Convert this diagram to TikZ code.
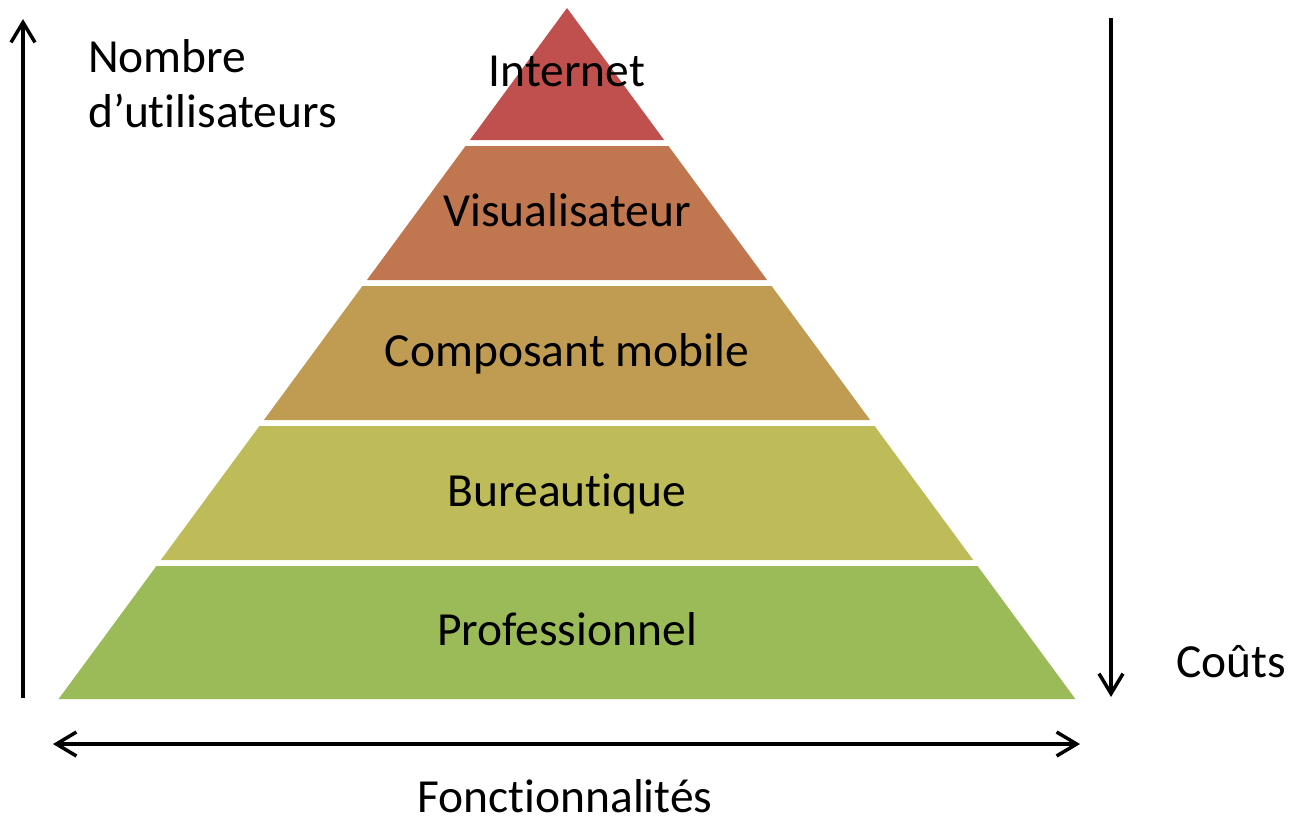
\documentclass[tikz,border=0pt]{standalone}
\usepackage{fontspec}
\setmainfont{Carlito}[Ligatures={NoCommon,NoContextual}]
\usetikzlibrary{arrows.meta}
\definecolor{c1}{RGB}{192,80,77}
\definecolor{c2}{RGB}{192,119,79}
\definecolor{c3}{RGB}{191,156,82}
\definecolor{c4}{RGB}{189,188,89}
\definecolor{c5}{RGB}{155,187,89}
\tikzset{
  lbl/.style={font=\fontsize{47.5}{55}\selectfont, anchor=base, inner sep=0pt, text=black},
  axis/.style={line width=3.5pt, black, line cap=butt},
  tip/.style={-{Straight Barb[length=20pt,width=24pt,line width=3.5pt]}},
}
\begin{document}
\begin{tikzpicture}[x=1pt,y=-1pt]
\useasboundingbox (0,0) rectangle (1299,820);
% pyramid bands: apex (567,8), half-width = 0.7358*(y-8)
\fill[c1] (567,8) -- (664.1,140) -- (469.9,140) -- cycle;
\fill[c2] (465.5,146) -- (668.5,146) -- (767.1,280) -- (366.9,280) -- cycle;
\fill[c3] (362.4,286) -- (771.6,286) -- (870.1,420) -- (263.9,420) -- cycle;
\fill[c4] (259.4,426) -- (874.6,426) -- (973.2,560) -- (160.8,560) -- cycle;
\fill[c5] (156.4,566) -- (977.6,566) -- (1075.4,699) -- (58.6,699) -- cycle;
\node[lbl] (internet) at (567,86) {Internet};
\node[lbl] (visu) at (567,226) {Visualisateur};
\node[lbl] (comp) at (567,366) {Composant mobile};
\node[lbl] (bur) at (567,506) {Bureautique};
\node[lbl] (pro) at (567,645) {Professionnel};
% axes
\coordinate (ub) at (23,698);
\coordinate (ut) at (23,19);
\draw[axis,tip] (ub) -- (ut);
\coordinate (ct) at (1111,18);
\coordinate (cb) at (1111,697);
\draw[axis,tip] (ct) -- (cb);
\coordinate (fl) at (53,744);
\coordinate (fr) at (1080,744);
\draw[axis,{Straight Barb[length=20pt,width=24pt,line width=3.5pt]}-{Straight Barb[length=20pt,width=24pt,line width=3.5pt]}] (fl) -- (fr);
\node[lbl, anchor=base west] (nombre) at (88,72) {Nombre};
\node[lbl, anchor=base west] (util) at (88,127) {d’utilisateurs};
\node[lbl] (couts) at (1231,677) {Coûts};
\node[lbl] (fonc) at (565,812) {Fonctionnalités};
\end{tikzpicture}
\end{document}
